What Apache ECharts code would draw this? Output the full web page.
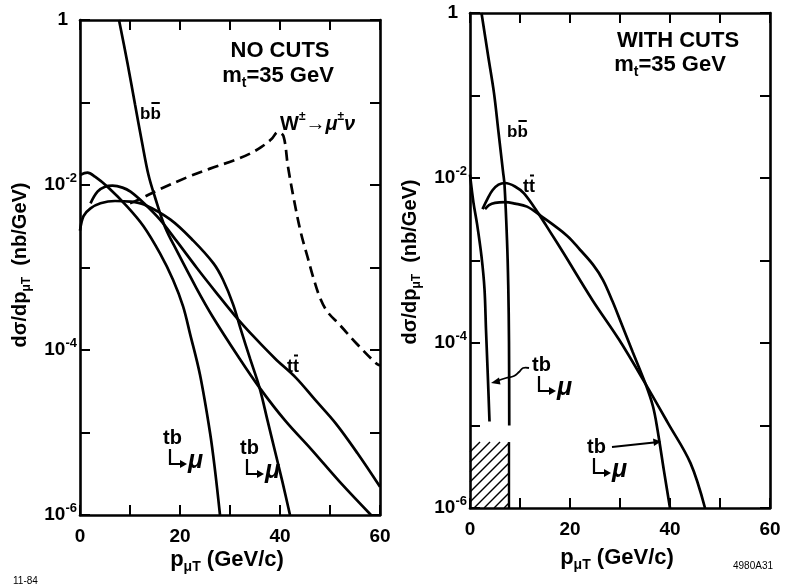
<!DOCTYPE html>
<html>
<head>
<meta charset="utf-8">
<script src="https://cdn.jsdelivr.net/npm/echarts@6/dist/echarts.min.js"></script>
<style>
html,body{margin:0;padding:0;background:#fff}
#c{width:787px;height:588px}
</style>
</head>
<body>
<div id="c"></div>
<script>
// ---- muon pT spectra, m_t = 35 GeV ----
// [pT (GeV/c), dσ/dpT (nb/GeV)]

// Left panel: no cuts
const noCutsTbLow = [[0,1.32e-2],[1.5,1.41e-2],[3,1.26e-2],[5.5,9.5e-3],[9.4,5.5e-3],[12.7,3.16e-3],[16,1.48e-3],[18.6,7.1e-4],[20.6,3.4e-4],[22,1.58e-4],[24,5.0e-5],[26,1.0e-5],[27,3.5e-6],[28,1.0e-6]];
const noCutsTT = [[2.1,6.0e-3],[3.5,8.3e-3],[5,9.5e-3],[6.5,9.8e-3],[8.5,9.3e-3],[10.1,8.3e-3],[12.8,6.0e-3],[16,3.8e-3],[19.3,2.1e-3],[23.3,1.0e-3],[27.2,5.0e-4],[31,2.6e-4],[35,1.4e-4],[39,7.9e-5],[43.2,4.6e-5],[47,2.5e-5],[51.1,1.3e-5],[55.5,5.6e-6],[60,2.2e-6]];
const noCutsTbHigh = [[0,2.8e-3],[0.7,4.2e-3],[2.1,5.2e-3],[4.1,6.0e-3],[7,6.4e-3],[10,6.3e-3],[12.8,5.8e-3],[18.1,3.8e-3],[22.7,2.1e-3],[26.7,1.12e-3],[28.6,7.1e-4],[30.6,3.6e-4],[32.2,1.74e-4],[34,7.9e-5],[35.9,3.5e-5],[37.5,1.4e-5],[39.1,5.6e-6],[40.5,2.5e-6],[42,1.0e-6]];
const noCutsBB = [[7.8,1.0],[9.5,0.30],[11,0.095],[12.4,0.033],[13.7,0.0132],[15,7.1e-3],[17,3.1e-3],[19.3,1.62e-3],[23.3,5.6e-4],[26.6,2.5e-4],[31.9,7.9e-5],[35.9,3.5e-5],[41,1.4e-5],[46.3,6.2e-6],[52,2.5e-6],[58.2,1.0e-6]];
const noCutsW = [[10,6.0e-3],[11.6,6.6e-3],[16,8.9e-3],[21.7,1.26e-2],[26,1.58e-2],[30.9,2.0e-2],[34,2.4e-2],[36.3,2.9e-2],[38.3,3.6e-2],[39.6,4.4e-2],[40.7,3.9e-2],[41.6,1.66e-2],[42.8,6.6e-3],[44.2,2.6e-3],[45.5,1.35e-3],[46.7,7.4e-4],[48,4.3e-4],[49.5,2.9e-4],[52,2.0e-4],[55.3,1.2e-4],[59.2,6.9e-5],[60,6.5e-5]];

// Right panel: with cuts
const cutsTbLow = [[0,1.1e-2],[0.7,5.0e-3],[1.4,2.8e-3],[2.3,1.12e-3],[2.9,4.5e-4],[3.2,1.45e-4],[3.6,3.5e-5],[3.9,1.12e-5]];
const cutsBB = [[2.3,1.0],[3.6,0.31],[4.8,0.107],[5.7,0.036],[6.6,0.012],[6.9,8.3e-3],[7.4,1.78e-3],[7.65,5.0e-4],[7.8,1.0e-4],[7.85,1.0e-5]];
const cutsTT = [[2.5,4.2e-3],[3.5,5.6e-3],[4.5,7.1e-3],[5.7,8.3e-3],[7,8.7e-3],[9,7.9e-3],[10.8,6.5e-3],[13.7,3.7e-3],[16,2.24e-3],[18.7,1.23e-3],[24.5,3.3e-4],[29.8,1.1e-4],[35.1,3.2e-5],[39.6,1.07e-5],[44.1,3.5e-6],[47,1.0e-6]];
const cutsTbHigh = [[3.0,4.2e-3],[3.8,4.7e-3],[5,5.0e-3],[7,5.1e-3],[9,4.9e-3],[11.4,4.5e-3],[14.1,3.5e-3],[19.4,2.0e-3],[22,1.35e-3],[24.6,8.9e-4],[26.6,5.8e-4],[28.5,3.2e-4],[30,1.9e-4],[32.5,7.9e-5],[35.1,3.2e-5],[36.6,1.7e-5],[37.5,8.9e-6],[38.8,2.8e-6],[40,1.0e-6]];

// hatched region below the cut (pT range, cross-section range)
const hatchX = [0, 7.8];
const hatchY = [1e-6, 6.3e-6];

// axis ranges and labelled ticks
const pTRange = [0, 60];
const xLabelled = [0, 20, 40, 60];
const yRange = [1e-6, 1];
const yLabelledExp = [0, -2, -4, -6];

const FONT = '"Liberation Sans", Arial, sans-serif';
const BLACK = '#000';

const chart = echarts.init(document.getElementById('c'), null, {renderer: 'canvas', width: 787, height: 588});

function xAxis(grid, pos) {
  const bottom = pos === 'bottom';
  return {
    type: 'value', gridIndex: grid, position: pos, min: pTRange[0], max: pTRange[1], interval: 10,
    axisLine: {show: true, onZero: false, lineStyle: {color: BLACK, width: 2.6}},
    axisTick: {show: true, inside: true, length: 10, lineStyle: {color: BLACK, width: 2}},
    axisLabel: {
      show: bottom, margin: 12, color: BLACK, fontFamily: FONT, fontWeight: 'bold', fontSize: 19,
      formatter: v => xLabelled.indexOf(v) >= 0 ? String(v) : ''
    },
    splitLine: {show: false}
  };
}

function yAxis(grid, pos) {
  const left = pos === 'left';
  return {
    type: 'log', logBase: 10, gridIndex: grid, position: pos, min: yRange[0], max: yRange[1],
    axisLine: {show: true, onZero: false, lineStyle: {color: BLACK, width: 2.6}},
    axisTick: {show: true, inside: true, length: 10, lineStyle: {color: BLACK, width: 2}},
    axisLabel: {
      show: left, margin: 3,
      formatter: v => {
        const e = Math.round(Math.log10(v));
        if (yLabelledExp.indexOf(e) < 0) return '';
        if (e === 0) return '{one|1}';
        return '{n|10}{e|-' + Math.abs(e) + '}';
      },
      rich: {
        one: {fontFamily: FONT, fontWeight: 'bold', fontSize: 19, color: BLACK, lineHeight: 26, padding: [0, 9, 0, 0]},
        n: {fontFamily: FONT, fontWeight: 'bold', fontSize: 19, color: BLACK, lineHeight: 26},
        e: {fontFamily: FONT, fontWeight: 'bold', fontSize: 13, color: BLACK, lineHeight: 10, verticalAlign: 'top'}
      }
    },
    splitLine: {show: false}
  };
}

function curve(name, data, gi, dashed) {
  return {
    name: name, type: 'line', xAxisIndex: gi * 2, yAxisIndex: gi * 2, data: data,
    symbol: 'none', showSymbol: false, smooth: 0.35, silent: true, z: 3,
    lineStyle: {color: BLACK, width: 2.7, type: dashed ? [11, 6] : 'solid', cap: 'butt'}
  };
}

// diagonal hatching of the cut region, placed through the axes
const hatchSeries = {
  type: 'custom', xAxisIndex: 2, yAxisIndex: 2, silent: true, z: 2,
  data: [[hatchX[0], hatchY[0]]],
  renderItem: function (params, api) {
    const p0 = api.coord([hatchX[0], hatchY[0]]);
    const p1 = api.coord([hatchX[1], hatchY[1]]);
    const x0 = p0[0], x1 = p1[0], yb = p0[1], yt = p1[1];
    const kids = [];
    const step = 10;
    for (let c = x0 + yt + step; c < x1 + yb; c += step) {
      const xa = Math.max(x0, c - yb), xb = Math.min(x1, c - yt);
      if (xb <= xa) continue;
      kids.push({type: 'line', shape: {x1: xa, y1: c - xa, x2: xb, y2: c - xb},
                 style: {stroke: BLACK, lineWidth: 1.4}});
    }
    kids.push({type: 'line', shape: {x1: x1, y1: yb, x2: x1, y2: yt},
               style: {stroke: BLACK, lineWidth: 2.4}});
    return {type: 'group', children: kids};
  }
};

// ---- annotation helpers ----
const baseText = {fill: BLACK, fontFamily: FONT, fontWeight: 'bold'};
function txt(x, y, text, opt) {
  return {type: 'text', x: x, y: y, silent: true, z: 20,
          style: Object.assign({text: text, fontSize: 20, align: 'left', verticalAlign: 'middle'}, baseText, opt || {})};
}
function richStyle(size) {
  return {
    sub: {fill: BLACK, fontFamily: FONT, fontWeight: 'bold', fontSize: Math.round(size * 0.62), lineHeight: 8, verticalAlign: 'bottom'},
    sup: {fill: BLACK, fontFamily: FONT, fontWeight: 'bold', fontSize: Math.round(size * 0.62), lineHeight: 8, verticalAlign: 'top'},
    m: {fill: BLACK, fontFamily: FONT, fontWeight: 'bold', fontSize: size, lineHeight: size + 6},
    mi: {fill: BLACK, fontFamily: FONT, fontWeight: 'bold', fontStyle: 'italic', fontSize: size, lineHeight: size + 6}
  };
}
// two letters with a bar over the second one
function barred(x, y, a, size, wA, wB) {
  return [
    txt(x, y, a + a, {fontSize: size}),
    {type: 'line', silent: true, z: 20, shape: {x1: x + wA + 1, y1: y - size * 0.5 - 2.5, x2: x + wA + wB - 1, y2: y - size * 0.5 - 2.5},
     style: {stroke: BLACK, lineWidth: 2}}
  ];
}
// "tb" with the hooked arrow to μ
function tbMu(x, y) {
  return [
    txt(x, y + 8, 'tb', {fontSize: 20}),
    {type: 'polyline', silent: true, z: 20, shape: {points: [[x + 7, y + 19], [x + 7, y + 34], [x + 19, y + 34]]},
     style: {stroke: BLACK, lineWidth: 2.2, fill: null}},
    {type: 'polygon', silent: true, z: 20, shape: {points: [[x + 24, y + 34], [x + 17, y + 30], [x + 17, y + 38]]},
     style: {fill: BLACK}},
    txt(x + 25, y + 31, 'μ', {fontSize: 25, fontStyle: 'italic'})
  ];
}

const graphics = [].concat(
  // left panel texts
  [txt(280, 51, 'NO CUTS', {fontSize: 22, align: 'center'})],
  [txt(278, 76, '{m|m}{sub|t}{m|=35 GeV}', {align: 'center', rich: richStyle(22)})],
  barred(140, 114, 'b', 17, 10.4, 10.4),
  barred(287, 367, 't', 18, 6, 6),
  [txt(280, 124, '{m|W}{sup|±}{m|→}{mi|μ}{sup|±}{mi|ν}', {rich: richStyle(20)})],
  tbMu(163, 430),
  tbMu(240, 440),
  // right panel texts
  [txt(678, 41, 'WITH CUTS', {fontSize: 22, align: 'center'})],
  [txt(670, 65, '{m|m}{sub|t}{m|=35 GeV}', {align: 'center', rich: richStyle(22)})],
  barred(507, 132, 'b', 17, 10.4, 10.4),
  barred(523, 187, 't', 18, 6, 6),
  tbMu(532, 357),
  tbMu(587, 439),
  // arrows from right-panel labels
  [{type: 'polyline', silent: true, z: 20,
    shape: {points: [[529, 368], [523, 368], [519, 372], [514, 376], [506, 378], [497, 381]], smooth: 0.4},
    style: {stroke: BLACK, lineWidth: 1.8, fill: null}},
   {type: 'polygon', silent: true, z: 20, shape: {points: [[491, 383], [499, 377.5], [500.5, 384.5]]}, style: {fill: BLACK}},
   {type: 'line', silent: true, z: 20, shape: {x1: 612, y1: 447, x2: 654, y2: 442.5}, style: {stroke: BLACK, lineWidth: 1.8}},
   {type: 'polygon', silent: true, z: 20, shape: {points: [[661, 441.5], [653, 438.5], [654, 446]]}, style: {fill: BLACK}}],
  // axis titles
  [txt(20, 265, '{m|dσ/dp}{sub|μT}{m|  (nb/GeV)}', {align: 'center', rich: richStyle(20), rotation: Math.PI / 2}),
   txt(410, 262, '{m|dσ/dp}{sub|μT}{m|  (nb/GeV)}', {align: 'center', rich: richStyle(20), rotation: Math.PI / 2}),
   txt(227, 560, '{m|p}{sub|μT}{m| (GeV/c)}', {align: 'center', rich: richStyle(22)}),
   txt(617, 558, '{m|p}{sub|μT}{m| (GeV/c)}', {align: 'center', rich: richStyle(22)})],
  // figure codes
  [txt(13, 581, '11-84', {fontSize: 10, fontWeight: 'normal'}),
   txt(733, 566, '4980A31', {fontSize: 10, fontWeight: 'normal'})]
);
// rotated elements need rotation on the element itself
graphics.forEach(g => { if (g.style && g.style.rotation) { g.rotation = g.style.rotation; delete g.style.rotation; } });

chart.setOption({
  animation: false,
  backgroundColor: '#fff',
  grid: [
    {left: 80, top: 20, width: 300, height: 495},
    {left: 470, top: 13, width: 300, height: 495}
  ],
  xAxis: [xAxis(0, 'bottom'), xAxis(0, 'top'), xAxis(1, 'bottom'), xAxis(1, 'top')],
  yAxis: [yAxis(0, 'left'), yAxis(0, 'right'), yAxis(1, 'left'), yAxis(1, 'right')],
  series: [
    curve('tb→μ (low)', noCutsTbLow, 0),
    curve('tt̄', noCutsTT, 0),
    curve('tb→μ (high)', noCutsTbHigh, 0),
    curve('bb̄', noCutsBB, 0),
    curve('W→μν', noCutsW, 0, true),
    curve('tb→μ (low), cuts', cutsTbLow, 1),
    curve('bb̄, cuts', cutsBB, 1),
    curve('tt̄, cuts', cutsTT, 1),
    curve('tb→μ (high), cuts', cutsTbHigh, 1),
    hatchSeries
  ],
  graphic: graphics
});
</script>
</body>
</html>
